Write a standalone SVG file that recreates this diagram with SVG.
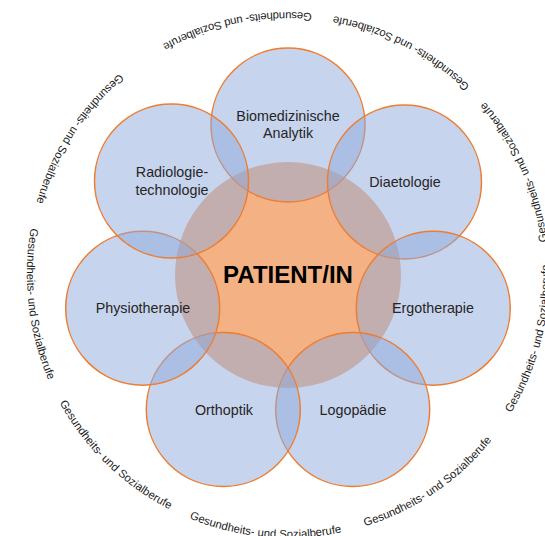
<svg xmlns="http://www.w3.org/2000/svg" xmlns:xlink="http://www.w3.org/1999/xlink" width="545" height="536" viewBox="0 0 545 536">
<style>
.sat{fill:#8FAADC;fill-opacity:0.5;stroke:#ED7D31;stroke-width:1.5}
.lbl{font-family:"Liberation Sans",Arial,sans-serif;font-size:14.3px;fill:#262626;text-anchor:middle}
.ring{font-family:"Liberation Sans",Arial,sans-serif;font-size:11.3px;fill:#1a1a1a;text-anchor:middle}
</style>
<defs>
<path id="ringpath" d="M 548 252.25 A 261 261 0 1 0 28 297.75 A 261 261 0 1 0 548 252.25" fill="none"/>
</defs>
<rect width="545" height="536" fill="#ffffff"/>
<g id="center">
<circle cx="288" cy="275" r="113" fill="#F4B183"/>
</g>
<g id="biomedizinische-analytik">
<circle class="sat" cx="288" cy="125" r="77"/>
<text class="lbl" x="288" y="121">Biomedizinische</text>
<text class="lbl" x="288" y="138">Analytik</text>
</g>
<g id="diaetologie">
<circle class="sat" cx="404.5" cy="182" r="77"/>
<text class="lbl" x="405" y="187">Diaetologie</text>
</g>
<g id="ergotherapie">
<circle class="sat" cx="433.3" cy="308.2" r="77"/>
<text class="lbl" x="433" y="313">Ergotherapie</text>
</g>
<g id="logopaedie">
<circle class="sat" cx="352.7" cy="409.5" r="77"/>
<text class="lbl" x="353" y="415">Logopädie</text>
</g>
<g id="orthoptik">
<circle class="sat" cx="223.3" cy="409.5" r="77"/>
<text class="lbl" x="224" y="415">Orthoptik</text>
</g>
<g id="physiotherapie">
<circle class="sat" cx="142.7" cy="308.2" r="77"/>
<text class="lbl" x="143" y="313">Physiotherapie</text>
</g>
<g id="radiologietechnologie">
<circle class="sat" cx="171.5" cy="181" r="77"/>
<text class="lbl" x="172" y="177">Radiologie-</text>
<text class="lbl" x="172" y="195">technologie</text>
</g>
<g id="patient-label">
<text x="288" y="283" font-family="'Liberation Sans',Arial,sans-serif" font-size="24" font-weight="bold" fill="#000000" text-anchor="middle">PATIENT/IN</text>
</g>
<g id="ring-labels" class="ring">
<text class="ring"><textPath xlink:href="#ringpath" href="#ringpath" startOffset="26.86%">Gesundheits- und Sozialberufe</textPath></text>
<text class="ring"><textPath xlink:href="#ringpath" href="#ringpath" startOffset="16.11%">Gesundheits- und Sozialberufe</textPath></text>
<text class="ring"><textPath xlink:href="#ringpath" href="#ringpath" startOffset="5.36%">Gesundheits- und Sozialberufe</textPath></text>
<text class="ring"><textPath xlink:href="#ringpath" href="#ringpath" startOffset="94.53%">Gesundheits- und Sozialberufe</textPath></text>
<text class="ring"><textPath xlink:href="#ringpath" href="#ringpath" startOffset="83.08%">Gesundheits- und Sozialberufe</textPath></text>
<text class="ring"><textPath xlink:href="#ringpath" href="#ringpath" startOffset="72.17%">Gesundheits- und Sozialberufe</textPath></text>
<text class="ring"><textPath xlink:href="#ringpath" href="#ringpath" startOffset="61.42%">Gesundheits- und Sozialberufe</textPath></text>
<text class="ring"><textPath xlink:href="#ringpath" href="#ringpath" startOffset="50.47%">Gesundheits- und Sozialberufe</textPath></text>
<text class="ring"><textPath xlink:href="#ringpath" href="#ringpath" startOffset="39.44%">Gesundheits- und Sozialberufe</textPath></text>
</g>
</svg>
